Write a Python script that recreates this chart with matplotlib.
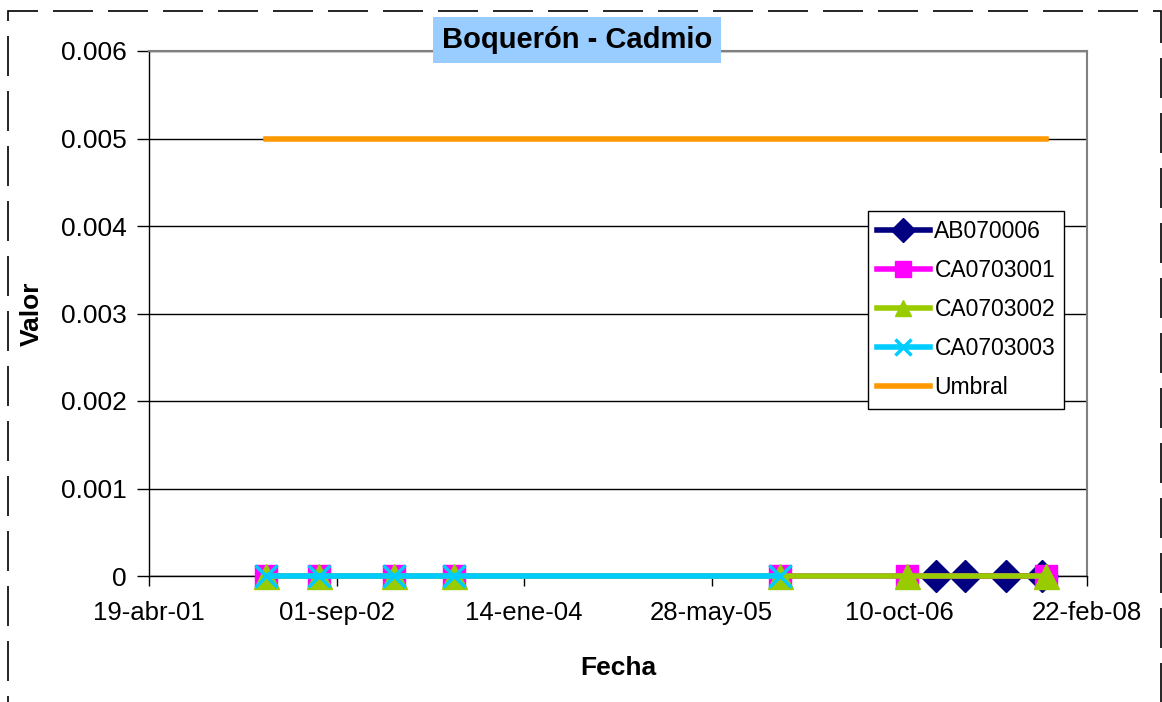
import matplotlib
matplotlib.use('Agg')
import matplotlib.pyplot as plt
from matplotlib.patches import Rectangle
from matplotlib.ticker import FuncFormatter
import pandas as pd

plt.rcParams['font.family'] = ['Liberation Sans', 'DejaVu Sans']

# sampling dates
fechas_ca01 = ['2002-02-25', '2002-07-16', '2003-02-01', '2003-07-11',
               '2005-11-26', '2006-10-30', '2007-11-05']
valores_ca01 = [0, 0, 0, 0, 0, 0, 0]

fechas_ca02 = ['2002-02-25', '2002-07-16', '2003-02-01', '2003-07-11',
               '2005-11-26', '2006-10-30', '2007-11-05']
valores_ca02 = [0, 0, 0, 0, 0, 0, 0]

fechas_ca03 = ['2002-02-25', '2002-07-16', '2003-02-01', '2003-07-11', '2005-11-26']
valores_ca03 = [0, 0, 0, 0, 0]

fechas_ab = ['2007-01-16', '2007-04-03', '2007-07-21', '2007-10-25']
valores_ab = [0, 0, 0, 0]

fechas_umbral = ['2002-02-25', '2007-11-05']
valores_umbral = [0.005, 0.005]

tick_fechas = ['2001-04-19', '2002-09-01', '2004-01-14', '2005-05-28', '2006-10-10', '2008-02-22']
tick_labels = ['19-abr-01', '01-sep-02', '14-ene-04', '28-may-05', '10-oct-06', '22-feb-08']
y_ticks = [0, 0.001, 0.002, 0.003, 0.004, 0.005, 0.006]

LW = 4
MS = 16

fig = plt.figure(figsize=(11.62, 7.02), dpi=100)
ax = fig.add_axes([149/1162, 1 - 576/702, 938/1162, 525/702])

ax.plot(pd.to_datetime(fechas_ab), valores_ab, color='#000080', lw=LW,
        marker='D', ms=MS, mec='#000080', label='AB070006', zorder=3, clip_on=False)
ax.plot(pd.to_datetime(fechas_ca01), valores_ca01, color='#FF00FF', lw=LW,
        marker='s', ms=MS, mec='#FF00FF', label='CA0703001', zorder=4, clip_on=False)
ax.plot(pd.to_datetime(fechas_ca02), valores_ca02, color='#99CC00', lw=LW,
        marker='^', ms=MS + 2, mec='#99CC00', label='CA0703002', zorder=5, clip_on=False)
ax.plot(pd.to_datetime(fechas_ca03), valores_ca03, color='#00CCFF', lw=LW,
        marker='x', ms=MS, mew=2.5, mec='#00CCFF', label='CA0703003', zorder=6, clip_on=False)
ax.plot(pd.to_datetime(fechas_umbral), valores_umbral, color='#FF9900', lw=LW,
        label='Umbral', zorder=3)

ax.set_xlim(pd.Timestamp(tick_fechas[0]), pd.Timestamp(tick_fechas[-1]))
ax.set_ylim(0, 0.006)
ax.set_xticks(pd.to_datetime(tick_fechas))
ax.set_xticklabels(tick_labels)
ax.set_yticks(y_ticks)
ax.yaxis.set_major_formatter(FuncFormatter(lambda v, p: '0' if v == 0 else f'{v:.3f}'))

ax.grid(axis='y', color='black', lw=1)
ax.set_axisbelow(True)
ax.tick_params(axis='x', direction='out', length=7, width=1, pad=11, labelsize=18.5)
ax.tick_params(axis='y', direction='out', length=9, width=1, pad=7, labelsize=19)
for s in ['top', 'right']:
    ax.spines[s].set_color('#808080')
    ax.spines[s].set_linewidth(1.5)
for s in ['left', 'bottom']:
    ax.spines[s].set_color('black')
    ax.spines[s].set_linewidth(1)

ax.set_xlabel('Fecha', fontsize=19, fontweight='bold')
ax.set_ylabel('Valor', fontsize=19, fontweight='bold')
ax.xaxis.set_label_coords(0.5, -0.152)
ax.yaxis.set_label_coords(-0.112, 0.5)

ax.text(0.456, 1.021, 'Boquerón - Cadmio', transform=ax.transAxes,
        ha='center', va='center', fontsize=21, fontweight='bold',
        bbox=dict(boxstyle='square,pad=0.3', fc='#99CCFF', ec='none'), zorder=10)

leg = ax.legend(loc='upper left', bbox_to_anchor=(0.7665, 0.695), fontsize=16.5,
                frameon=True, fancybox=False, framealpha=1, edgecolor='black',
                handlelength=2.3, handletextpad=0.2, borderpad=0.4,
                labelspacing=0.7, borderaxespad=0)
leg.get_frame().set_linewidth(1)
for h in leg.legend_handles:
    h.set_markersize(12)

# dashed outer border of the chart
fig.patches.append(Rectangle((8/1162, -0.05), 1153/1162, 1.05 - 11/702,
                             transform=fig.transFigure, fill=False,
                             ec='black', lw=1.2, ls=(0, (24, 9))))

fig.savefig('out.png', dpi=100)
